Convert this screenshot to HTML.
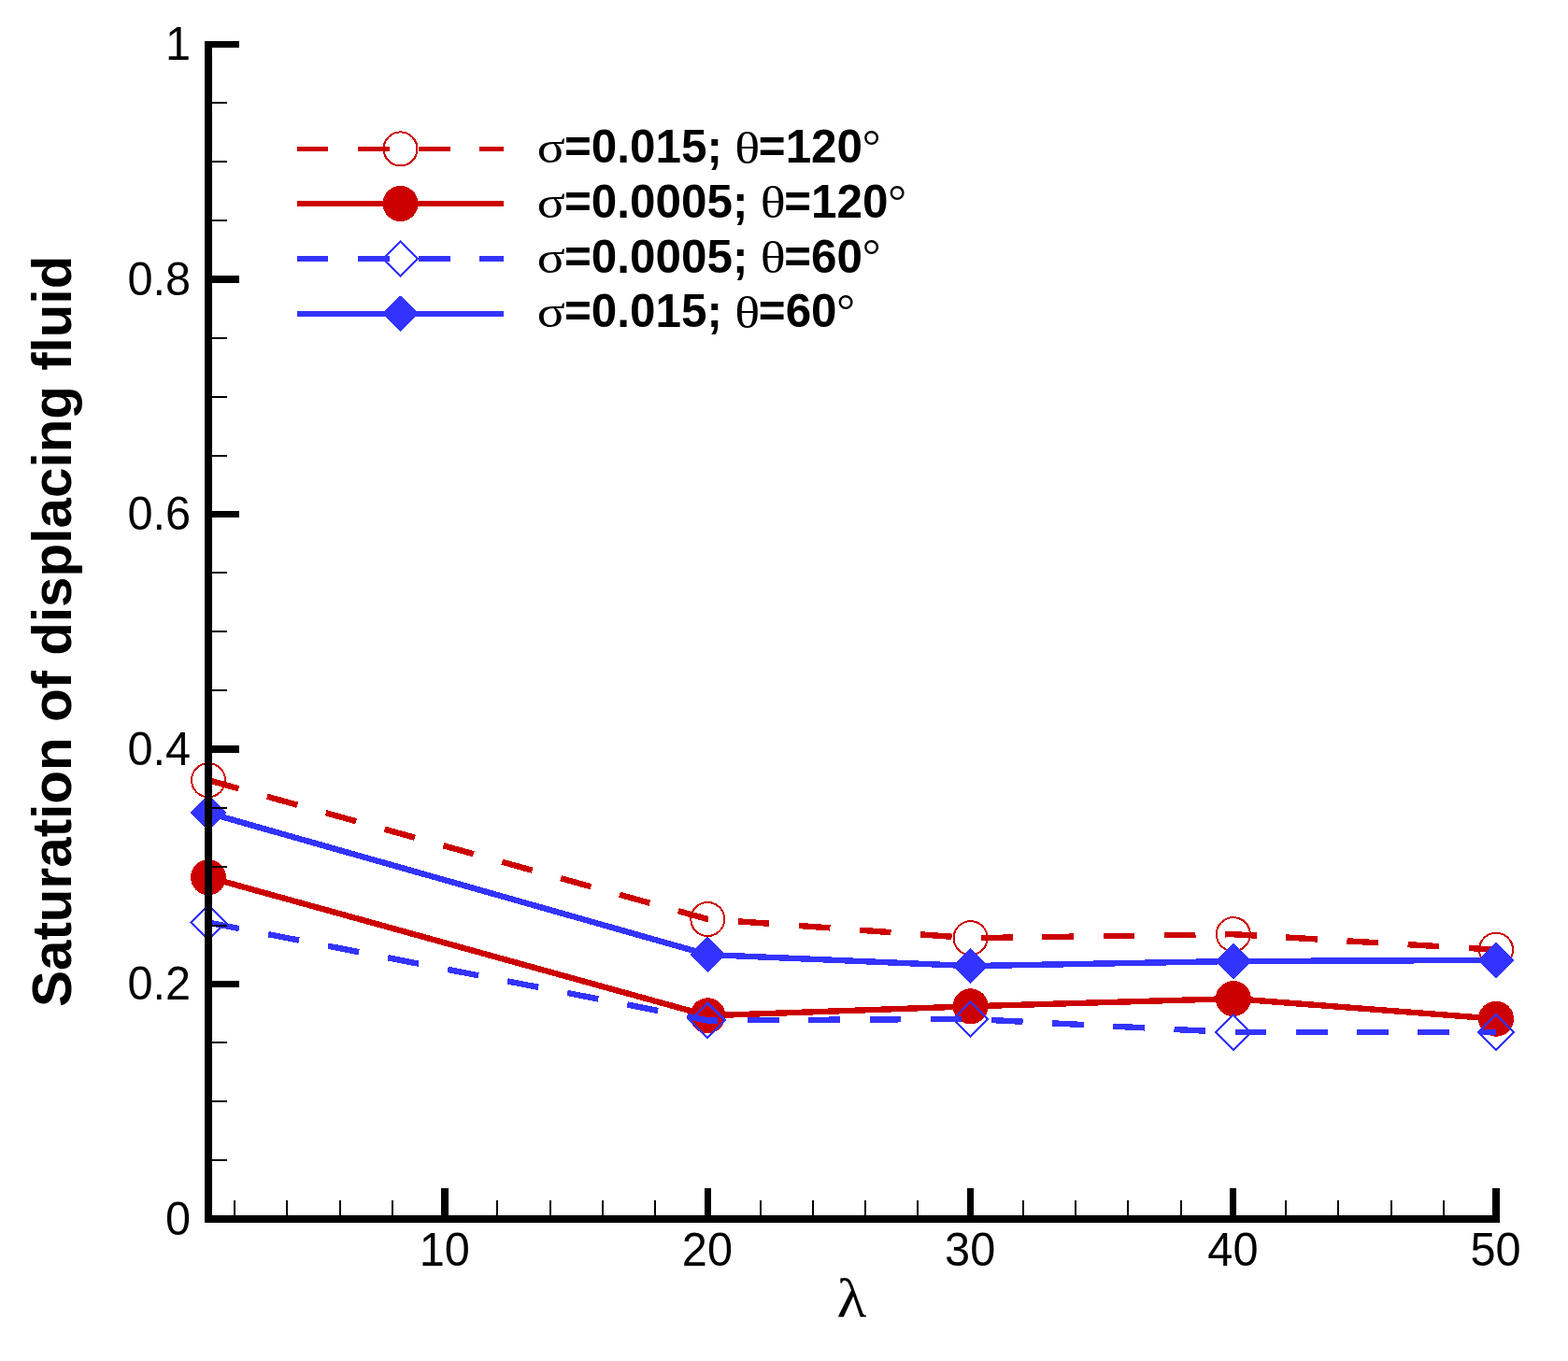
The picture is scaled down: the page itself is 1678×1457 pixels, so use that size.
<!DOCTYPE html>
<html lang="en"><head><meta charset="utf-8"><title>Saturation of displacing fluid</title>
<style>html,body{margin:0;padding:0;background:#fff}body{width:1678px;height:1457px;overflow:hidden}svg{display:block}.t{font-family:"Liberation Sans",Arial,Helvetica,sans-serif;fill:#000}.b{font-family:"Liberation Sans",Arial,Helvetica,sans-serif;font-weight:bold;fill:#000}.g{font-family:"Liberation Serif","DejaVu Serif",serif;font-weight:normal;fill:#000}</style></head><body>
<svg width="1678" height="1457" viewBox="0 0 1678 1457" shape-rendering="crispEdges">
<rect width="1678" height="1457" fill="#fff"/>
<g shape-rendering="crispEdges">
<polyline points="223.0,835.2 757.3,984.0 1038.6,1004.2 1319.8,1000.2 1601.0,1016.7" fill="none" stroke="#cc0000" stroke-width="6.4" stroke-linejoin="round" stroke-dasharray="33.6 31.65"/>
<circle cx="223.0" cy="835.2" r="18" fill="none" stroke="#cc0000" stroke-width="2"/>
<circle cx="757.3" cy="984.0" r="18" fill="none" stroke="#cc0000" stroke-width="2"/>
<circle cx="1038.6" cy="1004.2" r="18" fill="none" stroke="#cc0000" stroke-width="2"/>
<circle cx="1319.8" cy="1000.2" r="18" fill="none" stroke="#cc0000" stroke-width="2"/>
<circle cx="1601.0" cy="1016.7" r="18" fill="none" stroke="#cc0000" stroke-width="2"/>
<polyline points="223.0,939.2 757.3,1087.3 1038.6,1077.3 1319.8,1069.1 1601.0,1090.7" fill="none" stroke="#cc0000" stroke-width="6.4" stroke-linejoin="round"/>
<circle cx="223.0" cy="939.2" r="19" fill="#cc0000"/>
<circle cx="757.3" cy="1087.3" r="19" fill="#cc0000"/>
<circle cx="1038.6" cy="1077.3" r="19" fill="#cc0000"/>
<circle cx="1319.8" cy="1069.1" r="19" fill="#cc0000"/>
<circle cx="1601.0" cy="1090.7" r="19" fill="#cc0000"/>
<polyline points="223.0,987.6 757.3,1092.4 1038.6,1090.9 1319.8,1105.2 1601.0,1105.0" fill="none" stroke="#3333ff" stroke-width="6.4" stroke-linejoin="round" stroke-dasharray="33.6 31.65"/>
<polygon points="204.4,987.6 223.0,969.0 241.6,987.6 223.0,1006.2" fill="none" stroke="#3333ff" stroke-width="2.2"/>
<polygon points="738.7,1092.4 757.3,1073.8 775.9,1092.4 757.3,1111.0" fill="none" stroke="#3333ff" stroke-width="2.2"/>
<polygon points="1020.0,1090.9 1038.6,1072.3 1057.2,1090.9 1038.6,1109.5" fill="none" stroke="#3333ff" stroke-width="2.2"/>
<polygon points="1301.2,1105.2 1319.8,1086.6 1338.4,1105.2 1319.8,1123.8" fill="none" stroke="#3333ff" stroke-width="2.2"/>
<polygon points="1582.4,1105.0 1601.0,1086.4 1619.6,1105.0 1601.0,1123.6" fill="none" stroke="#3333ff" stroke-width="2.2"/>
<polyline points="223.0,870.3 757.3,1022.0 1038.6,1034.1 1319.8,1029.0 1601.0,1028.0" fill="none" stroke="#3333ff" stroke-width="6.4" stroke-linejoin="round"/>
<polygon points="203.7,870.3 223.0,851.0 242.3,870.3 223.0,889.6" fill="#3333ff"/>
<polygon points="738.0,1022.0 757.3,1002.7 776.6,1022.0 757.3,1041.3" fill="#3333ff"/>
<polygon points="1019.3,1034.1 1038.6,1014.8 1057.9,1034.1 1038.6,1053.4" fill="#3333ff"/>
<polygon points="1300.5,1029.0 1319.8,1009.7 1339.1,1029.0 1319.8,1048.3" fill="#3333ff"/>
<polygon points="1581.7,1028.0 1601.0,1008.7 1620.3,1028.0 1601.0,1047.3" fill="#3333ff"/>
</g>
<g shape-rendering="crispEdges" fill="#cc0000"><rect x="318" y="157" width="33" height="5"/><rect x="383" y="157" width="34" height="5"/><rect x="448" y="157" width="34" height="5"/><rect x="513" y="157" width="26" height="5"/></g>
<circle cx="428.5" cy="159.4" r="18" fill="none" stroke="#cc0000" stroke-width="2"/>
<g shape-rendering="crispEdges" fill="#cc0000"><rect x="318" y="215" width="221" height="6"/></g>
<circle cx="428.5" cy="218.0" r="19" fill="#cc0000"/>
<g shape-rendering="crispEdges" fill="#3333ff"><rect x="318" y="274" width="33" height="6"/><rect x="383" y="274" width="34" height="6"/><rect x="448" y="274" width="34" height="6"/><rect x="513" y="274" width="26" height="6"/></g>
<polygon points="409.9,277.2 428.5,258.6 447.1,277.2 428.5,295.8" fill="none" stroke="#3333ff" stroke-width="2.2"/>
<g shape-rendering="crispEdges" fill="#3333ff"><rect x="318" y="333" width="221" height="6"/></g>
<polygon points="409.2,335.8 428.5,316.5 447.8,335.8 428.5,355.1" fill="#3333ff"/>
<g shape-rendering="crispEdges" fill="#000">
<rect x="219" y="44" width="8" height="1265"/>
<rect x="219" y="1301" width="1386" height="8"/>
<rect x="219" y="1301" width="37" height="8"/>
<rect x="219" y="1241" width="24" height="2"/>
<rect x="219" y="1178" width="24" height="2"/>
<rect x="219" y="1115" width="24" height="2"/>
<rect x="219" y="1050" width="37" height="7"/>
<rect x="219" y="990" width="24" height="2"/>
<rect x="219" y="927" width="24" height="2"/>
<rect x="219" y="864" width="24" height="2"/>
<rect x="219" y="798" width="37" height="8"/>
<rect x="219" y="738" width="24" height="2"/>
<rect x="219" y="675" width="24" height="2"/>
<rect x="219" y="612" width="24" height="2"/>
<rect x="219" y="547" width="37" height="7"/>
<rect x="219" y="487" width="24" height="2"/>
<rect x="219" y="424" width="24" height="2"/>
<rect x="219" y="361" width="24" height="2"/>
<rect x="219" y="295" width="37" height="8"/>
<rect x="219" y="235" width="24" height="2"/>
<rect x="219" y="172" width="24" height="2"/>
<rect x="219" y="109" width="24" height="2"/>
<rect x="219" y="44" width="37" height="7"/>
<rect x="250" y="1285" width="2" height="24"/>
<rect x="306" y="1285" width="2" height="24"/>
<rect x="363" y="1285" width="2" height="24"/>
<rect x="419" y="1285" width="2" height="24"/>
<rect x="472" y="1272" width="8" height="37"/>
<rect x="531" y="1285" width="2" height="24"/>
<rect x="588" y="1285" width="2" height="24"/>
<rect x="644" y="1285" width="2" height="24"/>
<rect x="700" y="1285" width="2" height="24"/>
<rect x="754" y="1272" width="7" height="37"/>
<rect x="813" y="1285" width="2" height="24"/>
<rect x="869" y="1285" width="2" height="24"/>
<rect x="925" y="1285" width="2" height="24"/>
<rect x="981" y="1285" width="2" height="24"/>
<rect x="1035" y="1272" width="7" height="37"/>
<rect x="1094" y="1285" width="2" height="24"/>
<rect x="1150" y="1285" width="2" height="24"/>
<rect x="1206" y="1285" width="2" height="24"/>
<rect x="1263" y="1285" width="2" height="24"/>
<rect x="1316" y="1272" width="7" height="37"/>
<rect x="1375" y="1285" width="2" height="24"/>
<rect x="1431" y="1285" width="2" height="24"/>
<rect x="1488" y="1285" width="2" height="24"/>
<rect x="1544" y="1285" width="2" height="24"/>
<rect x="1597" y="1272" width="8" height="37"/>
</g>
<text class="t" font-size="48.7" transform="translate(204.20,1321.60) scale(1,1.025)" text-anchor="end">0</text>
<text class="t" font-size="48.7" transform="translate(204.20,1070.10) scale(1,1.025)" text-anchor="end">0.2</text>
<text class="t" font-size="48.7" transform="translate(204.20,818.60) scale(1,1.025)" text-anchor="end">0.4</text>
<text class="t" font-size="48.7" transform="translate(204.20,567.10) scale(1,1.025)" text-anchor="end">0.6</text>
<text class="t" font-size="48.7" transform="translate(204.20,315.60) scale(1,1.025)" text-anchor="end">0.8</text>
<text class="t" font-size="48.7" transform="translate(204.20,64.10) scale(1,1.025)" text-anchor="end">1</text>
<text class="t" font-size="48.7" transform="translate(475.70,1354.70) scale(1,1.02)" text-anchor="middle">10</text>
<text class="t" font-size="48.7" transform="translate(756.93,1354.70) scale(1,1.02)" text-anchor="middle">20</text>
<text class="t" font-size="48.7" transform="translate(1038.15,1354.70) scale(1,1.02)" text-anchor="middle">30</text>
<text class="t" font-size="48.7" transform="translate(1319.38,1354.70) scale(1,1.02)" text-anchor="middle">40</text>
<text class="t" font-size="48.7" transform="translate(1600.60,1354.70) scale(1,1.02)" text-anchor="middle">50</text>
<text class="b" font-size="58.4" transform="translate(76.10,1078.00) rotate(-90) scale(1,1.02)">Saturation of displacing fluid</text>
<text class="g" font-size="60.2" transform="translate(911.50,1410.20) scale(1.09,1)" text-anchor="middle">λ</text>
<text class="b" font-size="49.4"><tspan class="g" x="574.80" y="173.90" textLength="29.99" lengthAdjust="spacingAndGlyphs">σ</tspan><tspan x="604.00" y="173.90">=0.015;</tspan> <tspan class="g" x="786.30" y="174.50" textLength="26.98" lengthAdjust="spacingAndGlyphs">θ</tspan><tspan x="811.80" y="173.90">=120</tspan><tspan class="g" x="922.80" y="172.80">°</tspan></text>
<text class="b" font-size="49.4"><tspan class="g" x="574.80" y="232.70" textLength="29.99" lengthAdjust="spacingAndGlyphs">σ</tspan><tspan x="604.00" y="232.70">=0.0005;</tspan> <tspan class="g" x="813.77" y="233.30" textLength="26.98" lengthAdjust="spacingAndGlyphs">θ</tspan><tspan x="839.27" y="232.70">=120</tspan><tspan class="g" x="950.27" y="231.60">°</tspan></text>
<text class="b" font-size="49.4"><tspan class="g" x="574.80" y="291.50" textLength="29.99" lengthAdjust="spacingAndGlyphs">σ</tspan><tspan x="604.00" y="291.50">=0.0005;</tspan> <tspan class="g" x="813.77" y="292.10" textLength="26.98" lengthAdjust="spacingAndGlyphs">θ</tspan><tspan x="839.27" y="291.50">=60</tspan><tspan class="g" x="922.80" y="290.40">°</tspan></text>
<text class="b" font-size="49.4"><tspan class="g" x="574.80" y="350.30" textLength="29.99" lengthAdjust="spacingAndGlyphs">σ</tspan><tspan x="604.00" y="350.30">=0.015;</tspan> <tspan class="g" x="786.30" y="350.90" textLength="26.98" lengthAdjust="spacingAndGlyphs">θ</tspan><tspan x="811.80" y="350.30">=60</tspan><tspan class="g" x="895.33" y="349.20">°</tspan></text>
</svg></body></html>
